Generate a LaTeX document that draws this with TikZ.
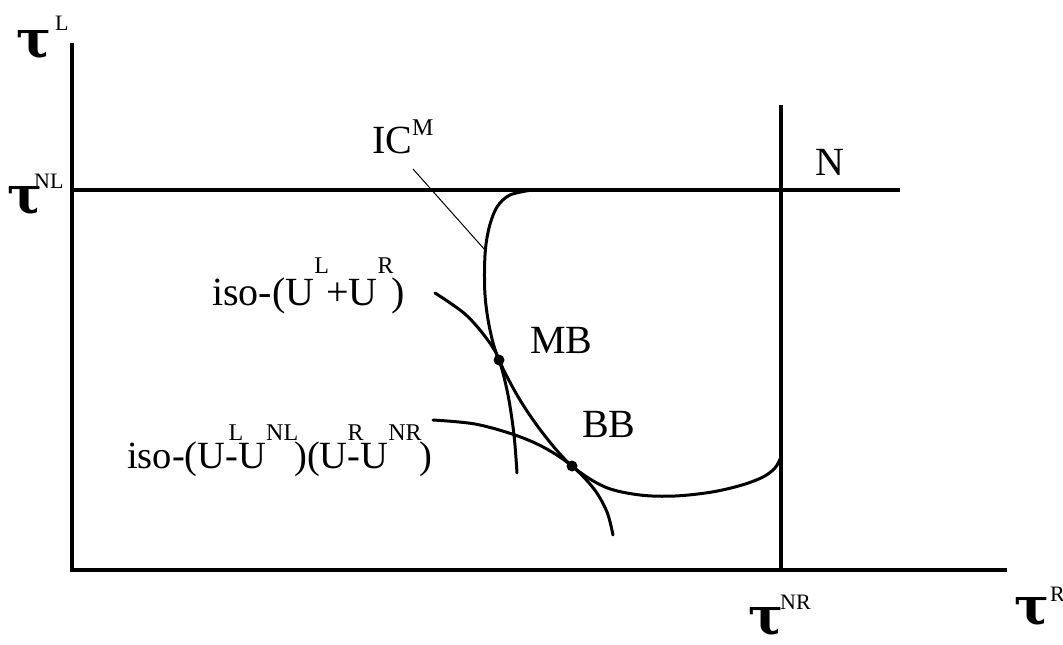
\documentclass[tikz,border=0pt]{standalone}
\usepackage{fontspec}
\setmainfont{Liberation Serif}
\newfontfamily\taufont{DejaVu Serif}
\newcommand\supA[3][24]{\raisebox{#2}{\fontsize{#1}{#1}\selectfont #3}}
\newcommand\supO[3]{\rlap{\kern#1\raisebox{#2}{\fontsize{24}{24}\selectfont #3}}}
\newcommand\tauS{{\taufont\bfseries\fontsize{52}{52}\selectfont τ}}
\begin{document}
\begin{tikzpicture}[x=1pt,y=-1pt,
  axis/.style={line width=4pt},
  curve/.style={line width=3pt, line cap=round},
  lbl/.style={inner sep=0pt, anchor=base west, font=\fontsize{40}{42}\selectfont},
  lbltwo/.style={inner sep=0pt, anchor=base west, font=\fontsize{38.5}{40}\selectfont},
  taulbl/.style={inner sep=0pt, anchor=base west},
  leader/.style={line width=1pt},
  dot/.style={fill=black}]
\useasboundingbox (0,0) rectangle (1063,645);
% axes and reference lines
\coordinate (O) at (72,570);
\coordinate (ytop) at (72,43);
\coordinate (xend) at (1007,570);
\coordinate (nl0) at (72,190);
\coordinate (nl1) at (900,190);
\coordinate (nr0) at (781,105);
\coordinate (nr1) at (781,570);
\draw[axis] (ytop) -- (O) -- (xend);
\draw[axis] (nl0) -- (nl1);
\draw[axis] (nr0) -- (nr1);
% key points
\coordinate (MB) at (499,360);
\coordinate (BB) at (572,466);
\coordinate (icpt) at (485,250);
% IC^M curve
\draw[curve] plot[smooth, tension=0.55] coordinates {(532,190) (510,195) (497,207) (489,228) (485,255) (485,295) (490,330) (MB) (520,400) (545,436) (BB) (605,487) (640,495) (675,496) (712,492) (742,485) (763,477) (775,468) (781,457)};
% iso-(U^L+U^R)
\draw[curve] plot[smooth, tension=0.55] coordinates {(435,293) (465,314) (487,339) (MB) (508,395) (514,435) (517,473)};
% iso-product
\draw[curve] plot[smooth, tension=0.55] coordinates {(433,420) (475,424) (515,435) (545,448) (BB) (594,489) (607,512) (613,535)};
% dots
\fill[dot] (MB) circle (5.5pt);
\fill[dot] (BB) circle (5.5pt);
% labels
\node[lbl] (ic) at (372,153) {IC\supA{18pt}{M}};
\draw[leader] (413,169) -- (icpt);
\node[lbl] (iso1) at (212,305) {iso-(U\supA{32pt}{L}\kern-3pt+U\supA{32pt}{R}\kern-2pt)};
\node[lbltwo] (iso2) at (127,468) {iso-(U\supO{3pt}{28pt}{L}-U\supA{28pt}{NL}\kern-4pt)(U\supO{0pt}{28pt}{R}-U\supA{28pt}{NR}\kern-2pt)};
\node[lbl] (mb) at (530,353) {MB};
\node[lbl] (bb) at (582,437) {BB};
\node[lbl] (n) at (815,175) {N};
\node[taulbl] (tL) at (16,57) {\tauS\kern4pt\supA[22]{27pt}{L}};
\node[taulbl] (tNL) at (7,213) {\tauS\kern-8pt\supA[22]{25pt}{NL}};
\node[taulbl] (tNR) at (748,634) {\tauS\kern-3pt\supA[22]{25pt}{NR}};
\node[taulbl] (tR) at (1014,624) {\tauS\kern1pt\supA[22]{23pt}{R}};
\end{tikzpicture}
\end{document}
